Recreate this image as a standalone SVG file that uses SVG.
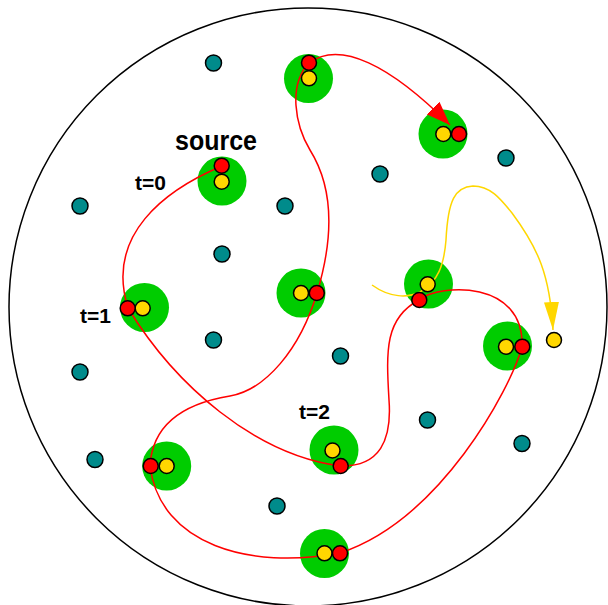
<svg xmlns="http://www.w3.org/2000/svg" width="608" height="605" viewBox="0 0 608 605">
<style>
.halo{fill:#00cc00;stroke:none}
.teal{fill:#008b8b;stroke:#000;stroke-width:1.5}
.red{fill:#ff0000;stroke:#000;stroke-width:1.5}
.yel{fill:#ffd700;stroke:#000;stroke-width:1.5}
.lbl{font-family:"Liberation Sans",Arial,sans-serif;font-weight:bold;fill:#000}
</style>
<defs>
<marker id="arR" markerUnits="userSpaceOnUse" markerWidth="26" markerHeight="18" refX="24" refY="9" orient="auto">
<path d="M0,0 L24,9 L0,18 z" fill="#ff0000"/>
</marker>
<marker id="arY" markerUnits="userSpaceOnUse" markerWidth="30" markerHeight="16" refX="28" refY="7.5" orient="auto">
<path d="M0,0 L28,7.5 L0,15 z" fill="#ffd700"/>
</marker>
</defs>
<rect width="608" height="605" fill="#fff"/>
<circle cx="308" cy="307" r="299" fill="none" stroke="#000" stroke-width="1.5"/>
<g id="halos">
<circle class="halo" cx="222" cy="181" r="24.5"/>
<circle class="halo" cx="308.5" cy="78.5" r="24.5"/>
<circle class="halo" cx="443" cy="134" r="24.5"/>
<circle class="halo" cx="144.5" cy="307.5" r="24.5"/>
<circle class="halo" cx="301" cy="293" r="24.5"/>
<circle class="halo" cx="428.5" cy="284" r="24.5"/>
<circle class="halo" cx="507.5" cy="346" r="24.5"/>
<circle class="halo" cx="334" cy="450" r="24.5"/>
<circle class="halo" cx="166.7" cy="466" r="24.5"/>
<circle class="halo" cx="324.5" cy="553.5" r="24.5"/>
</g>
<g id="teal-nodes">
<circle id="n1" class="teal" cx="213.5" cy="63" r="8"/>
<circle id="n2" class="teal" cx="80" cy="206" r="8"/>
<circle id="n3" class="teal" cx="285" cy="206" r="8"/>
<circle id="n4" class="teal" cx="222" cy="254" r="8"/>
<circle id="n5" class="teal" cx="380" cy="174" r="8"/>
<circle id="n6" class="teal" cx="506" cy="158" r="8"/>
<circle id="n7" class="teal" cx="213.5" cy="340" r="8"/>
<circle id="n8" class="teal" cx="80" cy="372" r="8"/>
<circle id="n9" class="teal" cx="340.5" cy="356" r="8"/>
<circle id="n10" class="teal" cx="427.5" cy="420" r="8"/>
<circle id="n11" class="teal" cx="522" cy="443.5" r="8"/>
<circle id="n12" class="teal" cx="95" cy="459.5" r="8"/>
<circle id="n13" class="teal" cx="277" cy="506" r="8"/>
</g>
<g id="connectors" fill="none" stroke-width="1.5">
<path stroke="#ff0000" marker-end="url(#arR)" d="M222,166 C165,190 105,235 128,308 C175,385 255,455 340,466 C380,467 392,440 389,400 C386,350 385,318 419,300 C440,283 525,280 522,347 C510,390 440,520 340,553 C250,570 160,545 150,466 C152,430 175,405 230,396 C265,390 300,350 317,293 C333,240 335,190 310,150 C295,125 288,85 309,63 C340,40 390,65 450,125"/>
<path stroke="#ffd700" marker-end="url(#arY)" d="M372,285 C390,298 408,298 420,292 C438,282 444,265 446,240 C448,200 455,187 473,186 C490,186 500,198 512,213 C538,248 550,275 553,330"/>
</g>
<g id="node-source"><circle class="red" cx="221.7" cy="165.7" r="7.5"/><circle class="yel" cx="221.7" cy="181.7" r="7.5"/></g>
<g id="node-top"><circle class="red" cx="309" cy="62.7" r="7.5"/><circle class="yel" cx="309" cy="78.3" r="7.5"/></g>
<g id="node-topright"><circle class="yel" cx="443.3" cy="134" r="7.5"/><circle class="red" cx="459" cy="134" r="7.5"/></g>
<g id="node-t1"><circle class="yel" cx="142.7" cy="308.3" r="7.5"/><circle class="red" cx="127.7" cy="308.3" r="7.5"/></g>
<g id="node-mid"><circle class="yel" cx="301" cy="293" r="7.5"/><circle class="red" cx="316.8" cy="293" r="7.5"/></g>
<g id="node-rightmid"><circle class="yel" cx="427.7" cy="284.3" r="7.5"/><circle class="red" cx="419.3" cy="300" r="7.5"/></g>
<g id="node-farright"><circle class="yel" cx="506" cy="346.7" r="7.5"/><circle class="red" cx="522.3" cy="346.7" r="7.5"/></g>
<g id="node-lone"><circle class="yel" cx="554" cy="340" r="7.5"/></g>
<g id="node-t2"><circle class="yel" cx="332.5" cy="450.5" r="7.5"/><circle class="red" cx="340.7" cy="466" r="7.5"/></g>
<g id="node-lowerleft"><circle class="yel" cx="166.7" cy="466" r="7.5"/><circle class="red" cx="150.7" cy="466" r="7.5"/></g>
<g id="node-bottom"><circle class="yel" cx="324.5" cy="553.3" r="7.5"/><circle class="red" cx="340" cy="553.3" r="7.5"/></g>
<g id="labels">
<text class="lbl" x="175" y="150" font-size="27" textLength="82" lengthAdjust="spacingAndGlyphs">source</text>
<text class="lbl" x="135" y="190" font-size="21">t=0</text>
<text class="lbl" x="80" y="323" font-size="21">t=1</text>
<text class="lbl" x="299" y="419" font-size="21">t=2</text>
</g>
</svg>
